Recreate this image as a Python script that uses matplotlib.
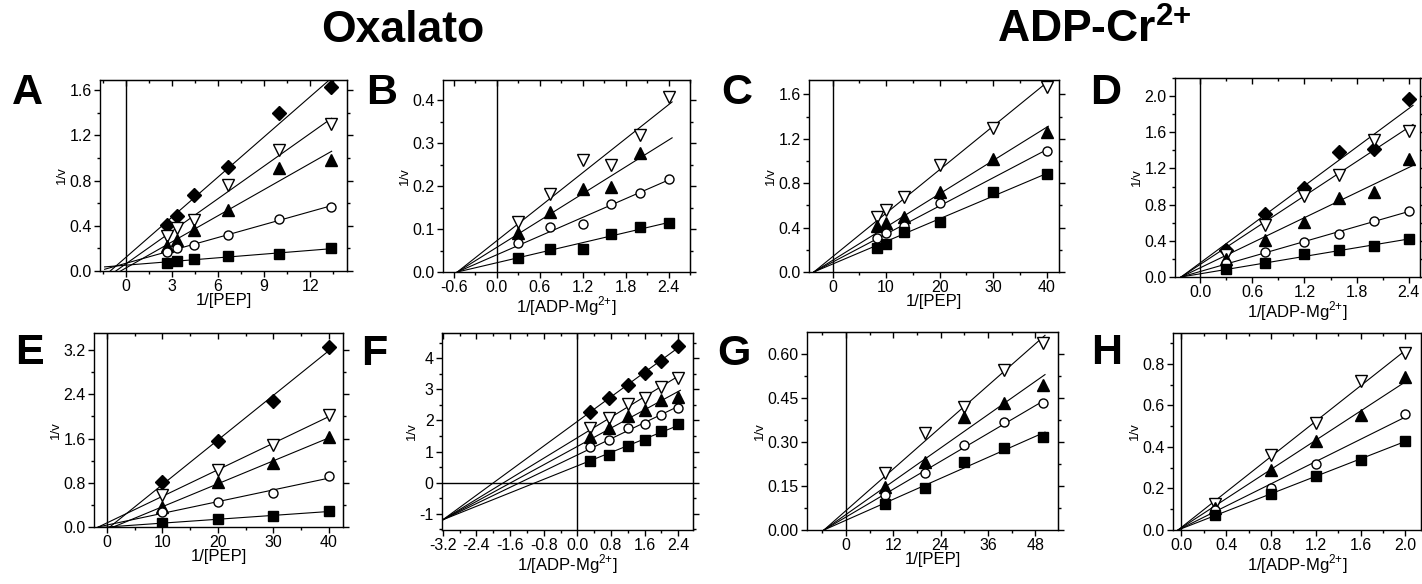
import numpy as np
import matplotlib
matplotlib.use("Agg")
import matplotlib.pyplot as plt
from matplotlib.ticker import MultipleLocator, FormatStrFormatter

plt.rcParams["font.family"] = ["Liberation Sans", "DejaVu Sans"]
plt.rcParams["mathtext.fontset"] = "custom"
plt.rcParams["mathtext.rm"] = "Liberation Sans"
plt.rcParams["mathtext.bf"] = "Liberation Sans:bold"

nan = np.nan

# ---- data (x = 1/[substrate], y = 1/v) ----
A_x = [2.67, 3.33, 4.44, 6.67, 10.0, 13.33]
A_diamond = [0.41, 0.49, 0.67, 0.92, 1.40, 1.63]
A_tri_open = [0.31, 0.38, 0.45, 0.76, 1.07, 1.30]
A_tri = [0.22, 0.27, 0.36, 0.54, 0.91, 0.98]
A_circle = [0.17, 0.20, 0.23, 0.32, 0.46, 0.57]
A_square = [0.07, 0.09, 0.11, 0.13, 0.15, 0.20]
A_cross = None             # free fits

B_x = [0.3, 0.75, 1.2, 1.6, 2.0, 2.4]
B_tri_open = [0.117, 0.181, 0.26, 0.249, 0.318, 0.408]
B_tri = [0.091, 0.14, 0.194, 0.198, 0.276, nan]
B_circle = [0.068, 0.105, 0.111, 0.159, 0.183, 0.217]
B_square = [0.033, 0.054, 0.054, 0.089, 0.105, 0.114]
B_cross = (-0.55, 0.0)     # common point of the fitted lines

C_x = [8.33, 10.0, 13.33, 20.0, 30.0, 40.0]
C_tri_open = [0.50, 0.56, 0.68, 0.96, 1.30, 1.67]
C_tri = [0.41, 0.44, 0.50, 0.72, 1.02, 1.26]
C_circle = [0.31, 0.35, 0.41, 0.62, nan, 1.09]
C_square = [0.22, 0.25, 0.36, 0.455, 0.72, 0.88]
C_cross = (-3.5, 0.0)

D_x = [0.3, 0.75, 1.2, 1.6, 2.0, 2.4]
D_diamond = [0.295, 0.70, 0.98, 1.38, 1.41, 1.97]
D_tri_open = [0.24, 0.58, 0.89, 1.13, 1.51, 1.61]
D_tri = [0.20, 0.41, 0.61, 0.87, 0.94, 1.31]
D_circle = [0.15, 0.28, 0.39, 0.48, 0.62, 0.73]
D_square = [0.09, 0.15, 0.25, 0.295, 0.34, 0.42]
D_cross = (-0.22, 0.0)

E_x = [10, 20, 30, 40]
E_diamond = [0.815, 1.55, 2.28, 3.26]
E_tri_open = [0.57, 1.03, 1.48, 2.02]
E_tri = [0.36, 0.815, 1.15, 1.63]
E_circle = [0.27, 0.45, 0.62, 0.92]
E_square = [0.07, 0.15, 0.19, 0.29]
E_cross = None

F_x = [0.3, 0.75, 1.2, 1.6, 2.0, 2.4]
F_diamond = [2.26, 2.74, 3.15, 3.53, 3.92, 4.39]
F_tri_open = [1.75, 2.08, 2.53, 2.72, 3.08, 3.37]
F_tri = [1.48, 1.75, 2.13, 2.34, 2.67, 2.77]
F_circle = [1.16, 1.38, 1.75, 1.89, 2.18, 2.40]
F_square = [0.68, 0.89, 1.19, 1.38, 1.65, 1.89]
F_cross = (-3.2, -1.2)

G_x = [10, 20, 30, 40, 50]
G_tri_open = [0.195, 0.33, 0.42, 0.545, 0.636]
G_tri = [0.148, 0.233, 0.386, 0.432, 0.494]
G_circle = [0.12, 0.195, 0.29, 0.366, 0.432]
G_square = [0.089, 0.142, 0.23, 0.278, 0.318]
G_cross = (-5.6, 0.0)

H_x = [0.3, 0.8, 1.2, 1.6, 2.0]
H_tri_open = [0.125, 0.36, 0.514, 0.718, 0.85]
H_tri = [0.104, 0.29, 0.426, 0.554, 0.734]
H_circle = [0.096, 0.20, 0.32, nan, 0.557]
H_square = [0.072, 0.172, 0.26, 0.337, 0.43]
H_cross = (-0.03, 0.0)

styles = {
    "diamond": dict(marker="D", ms=7, mfc="k"),
    "tri_open": dict(marker="v", ms=9, mfc="white"),
    "tri": dict(marker="^", ms=9, mfc="k"),
    "circle": dict(marker="o", ms=6.5, mfc="white"),
    "square": dict(marker="s", ms=7, mfc="k"),
}

W, H = 1422, 584


def box(l, t, r, b):
    return [l / W, 1 - b / H, (r - l) / W, (b - t) / H]


def fit_line(x, y, cross):
    # least squares line; forced through a common point when one is given
    if cross is None:
        m, b = np.polyfit(x, y, 1)
        return m, b
    x0, y0 = cross
    dx = x - x0
    m = np.sum(dx * (y - y0)) / np.sum(dx * dx)
    return m, y0 - m * x0


def kinetics_panel(fig, rect, x, series, cross, line_x, xlim, ylim, xtick, ytick,
                   xfmt, yfmt, xlabel, letter, letter_xy, hline=False):
    ax = fig.add_axes(box(*rect))
    x = np.asarray(x, float)
    xs = np.array(line_x)
    for name, ys in series:
        ys = np.asarray(ys, float)
        ok = ~np.isnan(ys)
        m, b = fit_line(x[ok], ys[ok], cross)
        ax.plot(xs, b + m * xs, "k-", lw=0.8, zorder=2)
        ax.plot(x[ok], ys[ok], ls="none", mec="k", mew=1, zorder=3, **styles[name])
    ax.axvline(0, color="k", lw=1, zorder=1)
    if hline:
        ax.axhline(0, color="k", lw=1, zorder=1)
    ax.set_xlim(*xlim)
    ax.set_ylim(*ylim)

    ax.xaxis.set_major_locator(MultipleLocator(xtick))
    ax.xaxis.set_minor_locator(MultipleLocator(xtick / 2))
    ax.yaxis.set_major_locator(MultipleLocator(ytick))
    ax.yaxis.set_minor_locator(MultipleLocator(ytick / 2))
    ax.xaxis.set_major_formatter(FormatStrFormatter(xfmt))
    ax.yaxis.set_major_formatter(FormatStrFormatter(yfmt))
    ax.tick_params(which="both", direction="out", labelsize=11.5, pad=2, width=1)
    ax.tick_params(which="major", length=4)
    ax.tick_params(which="minor", length=2.5)
    for sp in ax.spines.values():
        sp.set_linewidth(1)

    # Origin-style mirrored ticks: inward on top, outward on the right
    top = ax.secondary_xaxis("top")
    top.xaxis.set_major_locator(MultipleLocator(xtick))
    top.xaxis.set_minor_locator(MultipleLocator(xtick / 2))
    top.tick_params(which="both", direction="in", labeltop=False, width=1)
    top.tick_params(which="major", length=4)
    top.tick_params(which="minor", length=2.5)
    right = ax.secondary_yaxis("right")
    right.yaxis.set_major_locator(MultipleLocator(ytick))
    right.yaxis.set_minor_locator(MultipleLocator(ytick / 2))
    right.tick_params(which="both", direction="out", labelright=False, width=1)
    right.tick_params(which="major", length=4)
    right.tick_params(which="minor", length=2.5)

    ax.set_xlabel(xlabel, fontsize=12, labelpad=-1)
    ax.set_ylabel("1/v", fontsize=9.5, labelpad=1)
    fig.text(letter_xy[0] / W, 1 - letter_xy[1] / H, letter, fontsize=31,
             fontweight="bold", va="center", ha="left")
    return ax


fig = plt.figure(figsize=(W / 100, H / 100), dpi=100)

pep = "1/[PEP]"
adp = "1/[ADP-Mg$^{2{+}}$]"

kinetics_panel(fig, (100, 80, 347, 271), A_x,
               [("diamond", A_diamond), ("tri_open", A_tri_open), ("tri", A_tri),
                ("circle", A_circle), ("square", A_square)], A_cross,
               (-1.4, 13.4), (-1.7, 14.4), (0, 1.69), 3, 0.4, "%d", "%.1f",
               pep, "A", (12, 93))
kinetics_panel(fig, (443, 80, 690, 272), B_x,
               [("tri_open", B_tri_open), ("tri", B_tri), ("circle", B_circle),
                ("square", B_square)], B_cross,
               (-0.55, 2.45), (-0.75, 2.7), (0, 0.447), 0.6, 0.1, "%.1f", "%.1f",
               adp, "B", (366, 93))
kinetics_panel(fig, (809, 80, 1059, 272), C_x,
               [("tri_open", C_tri_open), ("tri", C_tri), ("circle", C_circle),
                ("square", C_square)], C_cross,
               (-3.5, 40.3), (-4.4, 42.3), (0, 1.73), 10, 0.4, "%d", "%.1f",
               pep, "C", (721, 93))
kinetics_panel(fig, (1175, 78, 1420, 277), D_x,
               [("diamond", D_diamond), ("tri_open", D_tri_open), ("tri", D_tri),
                ("circle", D_circle), ("square", D_square)], D_cross,
               (-0.22, 2.45), (-0.29, 2.53), (0, 2.2), 0.6, 0.4, "%.1f", "%.1f",
               adp, "D", (1090, 93))
kinetics_panel(fig, (94, 333, 343, 527), E_x,
               [("diamond", E_diamond), ("tri_open", E_tri_open), ("tri", E_tri),
                ("circle", E_circle), ("square", E_square)], E_cross,
               (-1.6, 40.5), (-2.35, 42.6), (0, 3.51), 10, 0.8, "%d", "%.1f",
               pep, "E", (15, 353))
kinetics_panel(fig, (442, 333, 693, 530), F_x,
               [("diamond", F_diamond), ("tri_open", F_tri_open), ("tri", F_tri),
                ("circle", F_circle), ("square", F_square)], F_cross,
               (-3.2, 2.45), (-3.22, 2.75), (-1.53, 4.82), 0.8, 1, "%.1f", "%d",
               adp, "F", (361, 354), hline=True)
kinetics_panel(fig, (807, 332, 1058, 530), G_x,
               [("tri_open", G_tri_open), ("tri", G_tri), ("circle", G_circle),
                ("square", G_square)], G_cross,
               (-5.6, 50.5), (-9.9, 53.8), (0, 0.674), 12, 0.15, "%d", "%.2f",
               pep, "G", (717, 354))
kinetics_panel(fig, (1173, 333, 1421, 530), H_x,
               [("tri_open", H_tri_open), ("tri", H_tri), ("circle", H_circle),
                ("square", H_square)], H_cross,
               (-0.03, 2.02), (-0.075, 2.14), (0, 0.948), 0.4, 0.2, "%.1f", "%.1f",
               adp, "H", (1091, 353))

fig.text(403 / W, 1 - 30 / H, "Oxalato", fontsize=32, fontweight="bold",
         ha="center", va="center")
fig.text(1094 / W, 1 - 30 / H, "ADP-Cr$^{\\mathbf{2{+}}}$", fontsize=32,
         fontweight="bold", ha="center", va="center")

fig.savefig("out.png", dpi=100)
